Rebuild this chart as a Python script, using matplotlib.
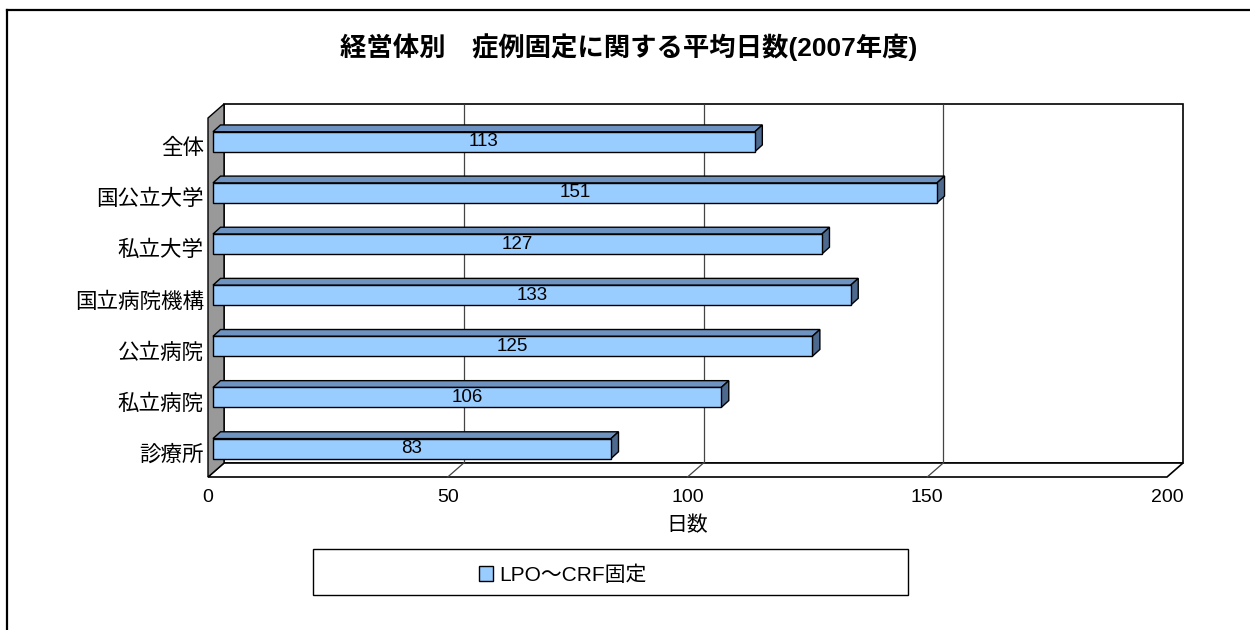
import matplotlib

matplotlib.use("Agg")
import matplotlib.pyplot as plt
from matplotlib.lines import Line2D
from matplotlib.patches import Polygon, Rectangle
from matplotlib.transforms import IdentityTransform, ScaledTranslation

# Arial-like latin, CJK falls through to Noto
plt.rcParams["font.family"] = ["Liberation Sans", "Noto Sans CJK JP", "DejaVu Sans"]

TITLE = "経営体別　症例固定に関する平均日数(2007年度)"
categories = ["全体", "国公立大学", "私立大学", "国立病院機構", "公立病院", "私立病院", "診療所"]
days = [113, 151, 127, 133, 125, 106, 83]
series_label = "LPO〜CRF固定"
x_ticks = [0, 50, 100, 150, 200]
x_label = "日数"

DPI = 100
FRONT = "#99CCFF"
TOP = "#6F93C0"
SIDE = "#4D6A8E"
WALL = "#999999"
DEPTH = (16, 14)      # front plane -> back wall, display px
BAR_OFF = (5, 4.4)    # front plane -> bar front face
BAR_DEPTH = (7.5, 6.8)
BAR_H = 0.39

fig = plt.figure(figsize=(12.5, 6.3), dpi=DPI)
ax = fig.add_axes([208 / 1250, 153 / 630, 959 / 1250, 359 / 630])
ax.set_xlim(0, 200)
ax.set_ylim(6.47, -0.55)
ax.set_autoscale_on(False)
ax.patch.set_visible(False)
for s in ax.spines.values():
    s.set_visible(False)


def shifted(dx, dy):
    return ax.transData + ScaledTranslation(dx / DPI, dy / DPI, fig.dpi_scale_trans)


def disp(x, y, off=(0, 0)):
    px, py = ax.transData.transform((x, y))
    return (px + off[0], py + off[1])


def poly(points, **kw):
    p = Polygon(points, closed=True, transform=IdentityTransform(), clip_on=False, **kw)
    ax.add_patch(p)
    return p


x0, x1 = ax.get_xlim()
ybot, ytop = ax.get_ylim()

# back wall
poly([disp(x0, ybot, DEPTH), disp(x1, ybot, DEPTH), disp(x1, ytop, DEPTH), disp(x0, ytop, DEPTH)],
     facecolor="white", edgecolor="black", linewidth=1.2, zorder=1)
# floor
poly([disp(x0, ybot), disp(x1, ybot), disp(x1, ybot, DEPTH), disp(x0, ybot, DEPTH)],
     facecolor="white", edgecolor="black", linewidth=1.2, zorder=1)
# left wall
poly([disp(x0, ybot), disp(x0, ytop), disp(x0, ytop, DEPTH), disp(x0, ybot, DEPTH)],
     facecolor=WALL, edgecolor="black", linewidth=1.0, zorder=2)

# gridlines on wall and floor
ax.vlines(x_ticks[1:-1], ybot, ytop, colors="#444444", linewidth=0.9,
          transform=shifted(*DEPTH), clip_on=False, zorder=1.5)
for xv in x_ticks[1:-1]:
    a, b = disp(xv, ybot), disp(xv, ybot, DEPTH)
    ax.add_line(Line2D([a[0], b[0]], [a[1], b[1]], color="#444444", linewidth=0.9,
                       transform=IdentityTransform(), clip_on=False, zorder=1.5))

# bars
ypos = list(range(len(categories)))
ax.barh(ypos, days, height=BAR_H, color=FRONT, edgecolor="black", linewidth=1.0,
        transform=shifted(*BAR_OFF), clip_on=False, zorder=4, label=series_label)
back = (BAR_OFF[0] + BAR_DEPTH[0], BAR_OFF[1] + BAR_DEPTH[1])
for y, v in zip(ypos, days):
    yt, yb = y - BAR_H / 2, y + BAR_H / 2
    poly([disp(0, yt, BAR_OFF), disp(v, yt, BAR_OFF), disp(v, yt, back), disp(0, yt, back)],
         facecolor=TOP, edgecolor="black", linewidth=1.0, zorder=3)
    poly([disp(v, yt, BAR_OFF), disp(v, yb, BAR_OFF), disp(v, yb, back), disp(v, yt, back)],
         facecolor=SIDE, edgecolor="black", linewidth=1.0, zorder=3)
    ax.text(v / 2, y, str(v), ha="center", va="center", fontsize=13.5,
            transform=shifted(*BAR_OFF), zorder=5)

ax.set_yticks(ypos, categories, fontsize=15.5)
ax.set_yticks([y + 0.5 for y in ypos[:-1]], minor=True)
ax.tick_params(axis="y", which="major", length=0, pad=3)
ax.tick_params(axis="y", which="minor", length=4, direction="in", color="black")
ax.set_xticks(x_ticks, [str(t) for t in x_ticks], fontsize=14)
ax.tick_params(axis="x", length=0, pad=9)
ax.set_xlabel(x_label, fontsize=15, labelpad=7)

fig.text(0.503, 1 - 47 / 630, TITLE, ha="center", va="center", fontsize=19, fontweight="bold")

# legend box
fig.add_artist(Rectangle((313 / 1250, 1 - 595 / 630), 595 / 1250, 46 / 630,
                         transform=fig.transFigure, facecolor="white", edgecolor="black",
                         linewidth=1.0, zorder=-1))
ax.legend(loc="center", bbox_to_anchor=(563 / 1250, 1 - 575 / 630),
          bbox_transform=fig.transFigure, frameon=False, fontsize=15,
          handlelength=0.7, handleheight=0.7, handletextpad=0.3)

# outer chart border
fig.add_artist(Line2D([7 / 1250, 7 / 1250], [0, 1 - 10 / 630], color="black", linewidth=1.6,
                      transform=fig.transFigure))
fig.add_artist(Line2D([7 / 1250, 1], [1 - 10 / 630, 1 - 10 / 630], color="black", linewidth=1.6,
                      transform=fig.transFigure))

fig.savefig("out.png", dpi=DPI, facecolor="white")
